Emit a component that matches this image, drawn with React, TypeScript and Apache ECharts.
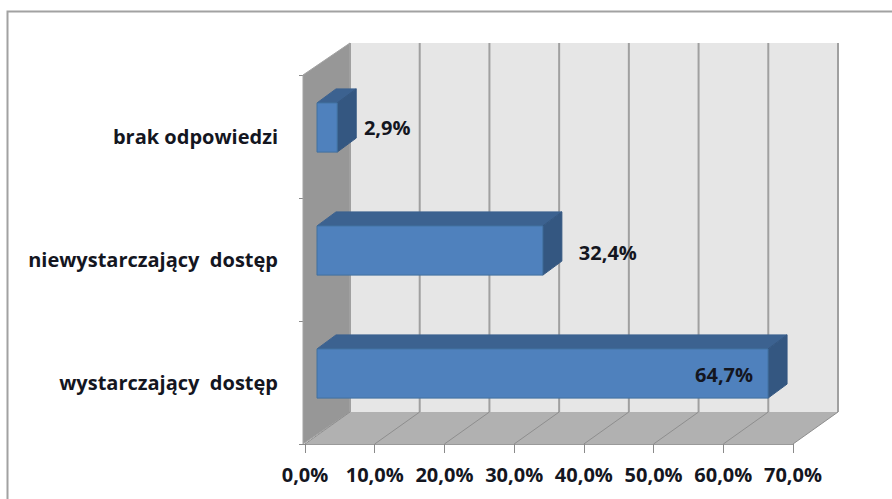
import React, { useEffect, useRef } from "react";
import * as echarts from "echarts";

const categories = ["wystarczający  dostęp", "niewystarczający  dostęp", "brak odpowiedzi"];
const values = [64.7, 32.4, 2.9];
const xTicks = [0, 10, 20, 30, 40, 50, 60, 70];

const FONT = "'Open Sans', sans-serif";
const TEXT = "#14161f";
const FONT_SIZE = 20;
const WALL_DX = 45;
const WALL_DY = -32;
const BAR_NEAR = [12, -9];
const BAR_FAR = [31, -23];
const BAR_RATIO = 0.4;
const LABEL_DX = [-32, 77, 62];
const LABEL_DY = [-8, -7, -9];

const pct = (v: number) => v.toFixed(1).replace(".", ",") + "%";

const wallSeries = {
  type: "custom",
  z: 1,
  silent: true,
  clip: false,
  data: [0],
  encode: { x: 0 },
  renderItem: (params: any) => {
    const { x, y, width, height } = params.coordSys;
    const b = y + height;
    const r = x + width;
    return {
      type: "group",
      children: [
        { type: "polygon", shape: { points: [[x - 2, y], [x + WALL_DX, y + WALL_DY], [x + WALL_DX, b + WALL_DY], [x - 2, b]] }, style: { fill: "#979797", stroke: "#a3a3a3", lineWidth: 1 } },
        { type: "rect", shape: { x: x + WALL_DX, y: y + WALL_DY, width: width, height: height }, style: { fill: "#e6e6e6" } },
        { type: "polygon", shape: { points: [[x, b], [r, b], [r + WALL_DX, b + WALL_DY], [x + WALL_DX, b + WALL_DY]] }, style: { fill: "#b1b1b1" } },
      ],
    };
  },
};

const gridSeries = {
  type: "custom",
  z: 2,
  silent: true,
  clip: false,
  data: xTicks.map((t) => [t]),
  encode: { x: 0 },
  renderItem: (params: any, api: any) => {
    const { y, height } = params.coordSys;
    const b = y + height;
    const px = api.coord([api.value(0), 0])[0];
    return {
      type: "group",
      children: [
        { type: "line", shape: { x1: px + WALL_DX, y1: y + WALL_DY, x2: px + WALL_DX, y2: b + WALL_DY }, style: { stroke: "#a0a0a0", lineWidth: 2 } },
        { type: "line", shape: { x1: px + WALL_DX, y1: b + WALL_DY, x2: px, y2: b }, style: { stroke: "#8e8e8e", lineWidth: 1 } },
      ],
    };
  },
};

const barSeries = {
  type: "custom",
  z: 3,
  silent: true,
  clip: false,
  data: values.map((v, i) => [v, i]),
  encode: { x: 0, y: 1 },
  renderItem: (_params: any, api: any) => {
    const v = api.value(0);
    const i = api.value(1);
    const end = api.coord([v, i]);
    const start = api.coord([0, i]);
    const band = api.size([0, 1])[1];
    const h = band * BAR_RATIO;
    const x0 = start[0] + BAR_NEAR[0];
    const x1 = end[0] + BAR_NEAR[0];
    const yT = end[1] + BAR_NEAR[1] - h / 2;
    const yB = yT + h;
    const dx = BAR_FAR[0] - BAR_NEAR[0];
    const dy = BAR_FAR[1] - BAR_NEAR[1];
    return {
      type: "group",
      children: [
        { type: "polygon", shape: { points: [[x0, yT], [x0 + dx, yT + dy], [x1 + dx, yT + dy], [x1, yT]] }, style: { fill: "#3c6290", stroke: "#3c6290", lineWidth: 1 } },
        { type: "polygon", shape: { points: [[x1, yT], [x1 + dx, yT + dy], [x1 + dx, yB + dy], [x1, yB]] }, style: { fill: "#345781", stroke: "#345781", lineWidth: 1 } },
        { type: "rect", shape: { x: x0, y: yT, width: x1 - x0, height: h }, style: { fill: "#4f81bd", stroke: "#41709f", lineWidth: 1 } },
      ],
    };
  },
};

const labelSeries = {
  type: "custom",
  z: 4,
  silent: true,
  clip: false,
  data: values.map((v, i) => [v, i]),
  encode: { x: 0, y: 1 },
  renderItem: (_params: any, api: any) => {
    const v = api.value(0);
    const i = api.value(1);
    const p = api.coord([v, i]);
    return {
      type: "text",
      x: p[0] + LABEL_DX[i],
      y: p[1] + LABEL_DY[i],
      style: {
        text: pct(v),
        fill: TEXT,
        font: `700 ${FONT_SIZE}px ${FONT}`,
        align: "center",
        verticalAlign: "middle",
      },
    };
  },
};

const option = {
  animation: false,
  backgroundColor: "#ffffff",
  grid: { left: 305, top: 75, width: 488, height: 369, containLabel: false },
  xAxis: {
    type: "value",
    min: 0,
    max: 70,
    interval: 10,
    splitLine: { show: false },
    axisLine: { show: true, lineStyle: { color: "#9a9a9a", width: 1 } },
    axisTick: { show: true, length: 9, lineStyle: { color: "#8a8a8a", width: 1 } },
    axisLabel: {
      formatter: (v: number) => pct(v),
      margin: 20,
      color: TEXT,
      fontFamily: FONT,
      fontWeight: 700,
      fontSize: FONT_SIZE,
      hideOverlap: false,
    },
  },
  yAxis: {
    type: "category",
    data: categories,
    axisLine: { show: false },
    axisTick: { show: true, length: 6, lineStyle: { color: "#8a8a8a", width: 1 } },
    axisLabel: {
      margin: 27,
      color: TEXT,
      fontFamily: FONT,
      fontWeight: 700,
      fontSize: FONT_SIZE,
      padding: [12, 0, 0, 0],
    },
  },
  graphic: [
    {
      type: "polyline",
      shape: { points: [[7.5, 499], [7.5, 11.5], [892, 11.5]] },
      style: { stroke: "#a2a2a2", lineWidth: 2, fill: "none" },
    },
  ],
  series: [wallSeries, gridSeries, barSeries, labelSeries],
};

export default function App() {
  const ref = useRef<HTMLDivElement>(null);
  useEffect(() => {
    document.body.style.margin = "0";
    const chart = echarts.init(ref.current!, undefined, { renderer: "svg" });
    chart.setOption(option as any);
    return () => chart.dispose();
  }, []);
  return <div ref={ref} style={{ width: 892, height: 499 }} />;
}
